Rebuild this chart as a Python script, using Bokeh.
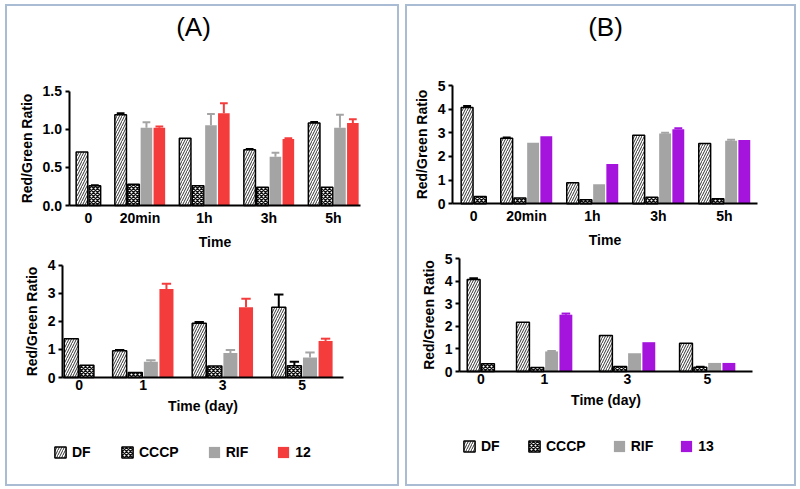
from bokeh.plotting import figure
from bokeh.models import ColumnDataSource, FixedTicker, Legend, LegendItem, Label, Range1d, Spacer
from bokeh.layouts import column, row
from bokeh.embed import file_html
from bokeh.resources import INLINE

# ---------------- data ----------------
series_a = ["DF", "CCCP", "RIF", "12"]
series_b = ["DF", "CCCP", "RIF", "13"]

hours = ["0", "20min", "1h", "3h", "5h"]
days = ["0", "1", "3", "5"]

# Panel A, top (hours)
a_top_df = [0.70, 1.19, 0.88, 0.73, 1.08]
a_top_df_err = [0.0, 0.02, 0.0, 0.01, 0.015]
a_top_cccp = [0.26, 0.28, 0.26, 0.24, 0.24]
a_top_cccp_err = [0.005, 0.0, 0.0, 0.0, 0.0]
a_top_rif = [None, 1.02, 1.05, 0.64, 1.02]
a_top_rif_err = [None, 0.07, 0.15, 0.05, 0.17]
a_top_12 = [None, 1.02, 1.21, 0.87, 1.08]
a_top_12_err = [None, 0.015, 0.13, 0.01, 0.05]

# Panel A, bottom (days)
a_bot_df = [1.38, 0.95, 1.93, 2.50]
a_bot_df_err = [0.0, 0.03, 0.04, 0.45]
a_bot_cccp = [0.44, 0.18, 0.41, 0.42]
a_bot_cccp_err = [0.0, 0.0, 0.0, 0.14]
a_bot_rif = [None, 0.56, 0.87, 0.71]
a_bot_rif_err = [None, 0.05, 0.11, 0.18]
a_bot_12 = [None, 3.15, 2.50, 1.30]
a_bot_12_err = [None, 0.18, 0.30, 0.08]

# Panel B, top (hours)
b_top_df = [4.07, 2.77, 0.89, 2.90, 2.55]
b_top_df_err = [0.06, 0.03, 0.0, 0.0, 0.0]
b_top_cccp = [0.31, 0.24, 0.17, 0.28, 0.21]
b_top_cccp_err = [0.0, 0.0, 0.0, 0.0, 0.0]
b_top_rif = [None, 2.58, 0.83, 2.97, 2.67]
b_top_rif_err = [None, 0.0, 0.0, 0.03, 0.04]
b_top_13 = [None, 2.85, 1.68, 3.15, 2.70]
b_top_13_err = [None, 0.0, 0.0, 0.04, 0.0]

# Panel B, bottom (days)
b_bot_df = [4.08, 2.19, 1.60, 1.25]
b_bot_df_err = [0.06, 0.0, 0.0, 0.0]
b_bot_cccp = [0.34, 0.18, 0.22, 0.19]
b_bot_cccp_err = [0.0, 0.0, 0.0, 0.02]
b_bot_rif = [None, 0.89, 0.81, 0.38]
b_bot_rif_err = [None, 0.02, 0.0, 0.0]
b_bot_13 = [None, 2.52, 1.30, 0.38]
b_bot_13_err = [None, 0.05, 0.0, 0.0]

a_top_yticks = [0, 0.5, 1.0, 1.5]
a_top_ylabels = ["0.0", "0.5", "1.0", "1.5"]
a_bot_yticks = [0, 1, 2, 3, 4]
a_bot_ylabels = ["0", "1", "2", "3", "4"]
b_yticks = [0, 1, 2, 3, 4, 5]
b_ylabels = ["0", "1", "2", "3", "4", "5"]

y_title = "Red/Green Ratio"

# ---------------- styles ----------------
FONT = "Liberation Sans"
RED = "#f43c3c"
PURPLE = "#a414dc"
GRAY = "#a4a4a4"
STYLE = {
    "DF": dict(fill_color="white", line_color="black", line_width=1.5, hatch_pattern="/",
               hatch_color="#333333", hatch_scale=5, hatch_weight=1),
    "CCCP": dict(fill_color="white", line_color="black", line_width=1.5, hatch_pattern="x",
                 hatch_color="#111111", hatch_scale=4, hatch_weight=1.4),
    "RIF": dict(fill_color=GRAY, line_color=None),
    "12": dict(fill_color=RED, line_color=None),
    "13": dict(fill_color=PURPLE, line_color=None),
}
ERRCOL = {"DF": "black", "CCCP": "black", "RIF": GRAY, "12": RED, "13": PURPLE}


def style_axis(ax, label):
    ax.axis_label = label
    ax.axis_line_width = 2
    ax.axis_line_color = "black"
    ax.minor_tick_out = 0
    ax.minor_tick_in = 0
    ax.major_tick_in = 0
    ax.major_tick_line_width = 2
    for part in ("major_label", "axis_label"):
        setattr(ax, part + "_text_font", FONT)
        setattr(ax, part + "_text_font_size", "14px")
        setattr(ax, part + "_text_font_style", "bold")
        setattr(ax, part + "_text_color", "black")


def make_chart(cats, series, values, errors, yticks, ylabels, xlabel, geom, gaps,
               legend=None, title=None):
    # geom: pixel layout of the chart inside the page (layout only, no data)
    fl, ft, fw, fh = geom["fig"]
    slot = geom["slot"]
    x0 = geom["first_bar"]
    x_start = (fl - x0) / slot
    x_end = (fl + fw - x0) / slot
    yaxis_at = (geom["axis_x"] - x0) / slot
    xaxis_stop = (geom["axis_end"] - x0) / slot
    ymax = yticks[-1]
    ppu = (geom["y0"] - geom["ytop"]) / ymax
    y_end = (geom["y0"] - ft) / ppu
    y_start = -(ft + fh - geom["y0"]) / ppu

    p = figure(width=fw, height=fh, x_range=Range1d(x_start, x_end),
               y_range=Range1d(y_start, y_end),
               output_backend="svg", toolbar_location=None, title_location=None,
               min_border=0)
    p.grid.visible = False
    p.outline_line_color = None
    p.background_fill_color = "white"
    p.border_fill_color = "white"

    n = len(cats)
    counts = [sum(1 for s in series if values[s][g] is not None) for g in range(n)]
    starts = [0.0]
    for g in range(n - 1):
        starts.append(starts[-1] + counts[g] + gaps[g])
    centers = [starts[g] + counts[g] / 2.0 for g in range(n)]

    items = []
    for si, s in enumerate(series):
        xs, tops, errs = [], [], []
        for g in range(n):
            v = values[s][g]
            if v is None:
                continue
            idx = sum(1 for s2 in series[:si] if values[s2][g] is not None)
            xs.append(starts[g] + idx + 0.5)
            tops.append(v)
            errs.append(errors[s][g] or 0.0)
        src = ColumnDataSource(dict(x=xs, top=tops))
        r = p.vbar(x="x", top="top", bottom=0, width=0.9, source=src, **STYLE[s])
        items.append(LegendItem(label=s, renderers=[r]))
        ex = [x for x, e in zip(xs, errs) if e > 0]
        ey0 = [t for t, e in zip(tops, errs) if e > 0]
        ey1 = [t + e for t, e in zip(tops, errs) if e > 0]
        if ex:
            esrc = ColumnDataSource(dict(x=ex, y0=ey0, y1=ey1,
                                         xl=[x - 0.3 for x in ex], xr=[x + 0.3 for x in ex]))
            p.segment(x0="x", y0="y0", x1="x", y1="y1", source=esrc,
                      line_color=ERRCOL[s], line_width=2)
            p.segment(x0="xl", y0="y1", x1="xr", y1="y1", source=esrc,
                      line_color=ERRCOL[s], line_width=2)

    xa = p.xaxis[0]
    style_axis(xa, xlabel)
    xa.fixed_location = 0
    xa.bounds = (yaxis_at, xaxis_stop)
    xa.ticker = FixedTicker(ticks=centers)
    xa.major_label_overrides = {c: lab for c, lab in zip(centers, cats)}
    xa.major_tick_out = 0
    xa.major_label_standoff = geom.get("xstand", 3)
    xa.axis_label_standoff = 5

    ya = p.yaxis[0]
    style_axis(ya, y_title)
    ya.fixed_location = yaxis_at
    ya.bounds = (0, ymax)
    ya.ticker = FixedTicker(ticks=yticks)
    ya.major_label_overrides = {t: lab for t, lab in zip(yticks, ylabels)}
    ya.major_tick_out = 4
    ya.major_label_standoff = 3
    ya.axis_label_standoff = 5

    if legend is not None:
        lx, ly, sp = legend
        leg = Legend(items=items, orientation="horizontal",
                     location=(lx - fl, ft + fh - ly - 7),
                     padding=0, margin=0, spacing=sp, label_standoff=5,
                     glyph_width=14, glyph_height=14, label_height=14,
                     border_line_color=None, background_fill_alpha=0,
                     label_text_font=FONT, label_text_font_size="14px",
                     label_text_font_style="bold", label_text_color="black",
                     label_text_baseline="middle")
        p.add_layout(leg)

    if title is not None:
        tx, ty, txt = title
        p.add_layout(Label(x=tx - fl, y=ft + fh - ty, x_units="screen", y_units="screen",
                           text=txt, text_align="center", text_baseline="middle",
                           text_font=FONT, text_font_size="26px", text_color="black"))
    return p


vals_a_top = {"DF": a_top_df, "CCCP": a_top_cccp, "RIF": a_top_rif, "12": a_top_12}
errs_a_top = {"DF": a_top_df_err, "CCCP": a_top_cccp_err, "RIF": a_top_rif_err, "12": a_top_12_err}
vals_a_bot = {"DF": a_bot_df, "CCCP": a_bot_cccp, "RIF": a_bot_rif, "12": a_bot_12}
errs_a_bot = {"DF": a_bot_df_err, "CCCP": a_bot_cccp_err, "RIF": a_bot_rif_err, "12": a_bot_12_err}
vals_b_top = {"DF": b_top_df, "CCCP": b_top_cccp, "RIF": b_top_rif, "13": b_top_13}
errs_b_top = {"DF": b_top_df_err, "CCCP": b_top_cccp_err, "RIF": b_top_rif_err, "13": b_top_13_err}
vals_b_bot = {"DF": b_bot_df, "CCCP": b_bot_cccp, "RIF": b_bot_rif, "13": b_bot_13}
errs_b_bot = {"DF": b_bot_df_err, "CCCP": b_bot_cccp_err, "RIF": b_bot_rif_err, "13": b_bot_13_err}

# page layout (pixels)
A_IN_X, B_IN_X, IN_Y = 7, 407, 6
A_W, B_W = 390, 387
TOP_H, BOT_H = 242, 236

geom_a_top = dict(fig=(A_IN_X, IN_Y, A_W, TOP_H), axis_x=68.5, first_bar=75, slot=12.9,
                  axis_end=360, y0=205, ytop=90.5, xstand=4)
geom_a_bot = dict(fig=(A_IN_X, IN_Y + TOP_H, A_W, BOT_H), axis_x=62, first_bar=63, slot=15.6,
                  axis_end=343, y0=377, ytop=264.5, xstand=2)
geom_b_top = dict(fig=(B_IN_X, IN_Y, B_W, TOP_H), axis_x=452, first_bar=460, slot=13.2,
                  axis_end=757, y0=203.3, ytop=85, xstand=4)
geom_b_bot = dict(fig=(B_IN_X, IN_Y + TOP_H, B_W, BOT_H), axis_x=459, first_bar=466, slot=14.3,
                  axis_end=752, y0=371, ytop=258.3, xstand=2)

a_top = make_chart(hours, series_a, vals_a_top, errs_a_top, a_top_yticks, a_top_ylabels, "Time",
                   geom_a_top, [1, 1, 1, 1], title=(193, 26, "(A)"))
a_bot = make_chart(days, series_a, vals_a_bot, errs_a_bot, a_bot_yticks, a_bot_ylabels, "Time (day)",
                   geom_a_bot, [1.1, 1.1, 1.1], legend=(53, 453, 28))
b_top = make_chart(hours, series_b, vals_b_top, errs_b_top, b_yticks, b_ylabels, "Time",
                   geom_b_top, [1, 1, 1, 1], title=(605, 26, "(B)"))
b_bot = make_chart(days, series_b, vals_b_bot, errs_b_bot, b_yticks, b_ylabels, "Time (day)",
                   geom_b_bot, [1.45, 1.8, 1.6], legend=(462, 447, 26))

BORDER = {"border": "2px solid #a9bcd4"}
panel_a = column(a_top, a_bot, styles=BORDER)
panel_b = column(b_top, b_bot, styles=BORDER)
layout = column(Spacer(height=4),
                row(Spacer(width=5), panel_a, Spacer(width=6), panel_b))

open("out.html", "w").write(file_html(layout, INLINE))
